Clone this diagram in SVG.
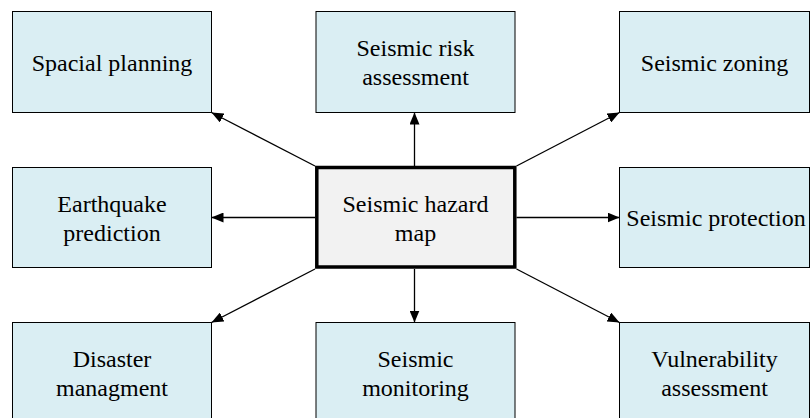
<svg xmlns="http://www.w3.org/2000/svg" width="811" height="418" viewBox="0 0 811 418">
<defs>
<style>
.box{fill:#DAEEF3;stroke:#000;stroke-width:1}
.hub{fill:#F2F2F2;stroke:#000;stroke-width:3.5}
.t{font-size:24px;fill:#000;text-anchor:middle}
.c{stroke:#000;stroke-width:1.3;fill:none;marker-end:url(#ah)}
</style>
<marker id="ah" markerUnits="userSpaceOnUse" markerWidth="12" markerHeight="10" refX="12" refY="5" orient="auto">
<path d="M0,0 L12,5 L0,10 z" fill="#000"/>
</marker>
</defs>
<rect width="811" height="418" fill="#fff"/>
<g id="connectors">
<line class="c" x1="414.5" y1="166" x2="414.5" y2="112.5"/>
<line class="c" x1="414.5" y1="269" x2="414.5" y2="322.5"/>
<line class="c" x1="315" y1="217.5" x2="211.5" y2="217.5"/>
<line class="c" x1="516.5" y1="217.5" x2="619.5" y2="217.5"/>
<line class="c" x1="315" y1="166" x2="211.5" y2="112.5"/>
<line class="c" x1="516.5" y1="166" x2="619.5" y2="112.5"/>
<line class="c" x1="315" y1="269" x2="211.5" y2="322.5"/>
<line class="c" x1="516.5" y1="269" x2="619.5" y2="322.5"/>
</g>
<g id="spacial-planning">
<rect class="box" x="12.5" y="11.5" width="199" height="101"/>
<text class="t" font-family="Liberation Serif, Times New Roman, serif" x="112" y="70.5">Spacial planning</text>
</g>
<g id="seismic-risk-assessment">
<rect class="box" x="316" y="11.5" width="199" height="101"/>
<text class="t" font-family="Liberation Serif, Times New Roman, serif" x="415.5" y="56">Seismic risk</text>
<text class="t" font-family="Liberation Serif, Times New Roman, serif" x="415.5" y="85">assessment</text>
</g>
<g id="seismic-zoning">
<rect class="box" x="619.5" y="11.5" width="190" height="101"/>
<text class="t" font-family="Liberation Serif, Times New Roman, serif" x="714.5" y="70.5">Seismic zoning</text>
</g>
<g id="earthquake-prediction">
<rect class="box" x="12.5" y="167.5" width="199" height="100"/>
<text class="t" font-family="Liberation Serif, Times New Roman, serif" x="112" y="211.5">Earthquake</text>
<text class="t" font-family="Liberation Serif, Times New Roman, serif" x="112" y="240.5">prediction</text>
</g>
<g id="seismic-hazard-map">
<rect class="hub" x="316.8" y="167.5" width="198" height="99.5"/>
<text class="t" font-family="Liberation Serif, Times New Roman, serif" x="415.5" y="211.5">Seismic hazard</text>
<text class="t" font-family="Liberation Serif, Times New Roman, serif" x="415.5" y="240.5">map</text>
</g>
<g id="seismic-protection">
<rect class="box" x="619.5" y="167.5" width="190" height="100"/>
<text class="t" font-family="Liberation Serif, Times New Roman, serif" x="716" y="226">Seismic protection</text>
</g>
<g id="disaster-managment">
<rect class="box" x="12.5" y="322.5" width="199" height="101"/>
<text class="t" font-family="Liberation Serif, Times New Roman, serif" x="112" y="367">Disaster</text>
<text class="t" font-family="Liberation Serif, Times New Roman, serif" x="112" y="396">managment</text>
</g>
<g id="seismic-monitoring">
<rect class="box" x="316" y="322.5" width="199" height="101"/>
<text class="t" font-family="Liberation Serif, Times New Roman, serif" x="415.5" y="367">Seismic</text>
<text class="t" font-family="Liberation Serif, Times New Roman, serif" x="415.5" y="396">monitoring</text>
</g>
<g id="vulnerability-assessment">
<rect class="box" x="619.5" y="322.5" width="190" height="101"/>
<text class="t" font-family="Liberation Serif, Times New Roman, serif" x="714.5" y="367">Vulnerability</text>
<text class="t" font-family="Liberation Serif, Times New Roman, serif" x="714.5" y="396">assessment</text>
</g>
</svg>
